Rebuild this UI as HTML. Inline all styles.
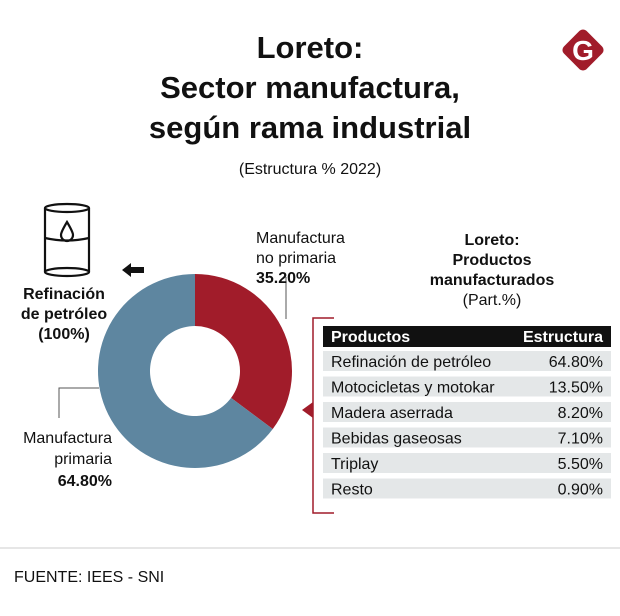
<!DOCTYPE html>
<html><head><meta charset="utf-8">
<style>
body{margin:0;background:#fff;font-family:"Liberation Sans",sans-serif;}
#wrap{position:relative;width:620px;height:616px;overflow:hidden;background:#fff;}
</style></head>
<body>
<div id="wrap">
<svg id="chart" width="620" height="616" viewBox="0 0 620 616">
  <text x="310" y="58" text-anchor="middle" font-size="31" font-weight="bold" fill="#111">Loreto:</text>
  <text x="310" y="98" text-anchor="middle" font-size="31" font-weight="bold" fill="#111">Sector manufactura,</text>
  <text x="310" y="138" text-anchor="middle" font-size="31" font-weight="bold" fill="#111">según rama industrial</text>
  <text x="310" y="174" text-anchor="middle" font-size="16" fill="#111">(Estructura % 2022)</text>
  <g>
    <rect x="567" y="34" width="32" height="32" rx="5" transform="rotate(45 583 50)" fill="#a11c2a"/>
    <text x="583" y="60" text-anchor="middle" font-size="28" font-weight="bold" fill="#fff">G</text>
  </g>
  <g fill="none" stroke="#111" stroke-width="2.2">
    <ellipse cx="67" cy="208" rx="22" ry="4"/>
    <path d="M45 208 V272 M89 208 V272"/>
    <ellipse cx="67" cy="272" rx="22" ry="4"/>
    <path d="M45 238 Q67 243 89 238"/>
    <path d="M67 222 Q61 232 61 235 A6 6 0 0 0 73 235 Q73 232 67 222 Z"/>
  </g>
  <path d="M122 270 L131 263 L131 267 L144 267 L144 273 L131 273 L131 277 Z" fill="#111"/>
  <text x="64" y="299" text-anchor="middle" font-size="16" font-weight="bold" fill="#111">Refinación</text>
  <text x="64" y="319" text-anchor="middle" font-size="16" font-weight="bold" fill="#111">de petróleo</text>
  <text x="64" y="339" text-anchor="middle" font-size="16" font-weight="bold" fill="#111">(100%)</text>
  <g id="slices"></g>
  <path d="M286 319 V277" fill="none" stroke="#555" stroke-width="1"/>
  <text x="256" y="243" font-size="16" fill="#111">Manufactura</text>
  <text x="256" y="263" font-size="16" fill="#111">no primaria</text>
  <text x="256" y="283" font-size="16" font-weight="bold" fill="#111">35.20%</text>
  <path d="M59 418 V388 H99" fill="none" stroke="#555" stroke-width="1"/>
  <text x="112" y="443" text-anchor="end" font-size="16" fill="#111">Manufactura</text>
  <text x="112" y="464" text-anchor="end" font-size="16" fill="#111">primaria</text>
  <text x="112" y="486" text-anchor="end" font-size="16" font-weight="bold" fill="#111">64.80%</text>
  <text x="492" y="245" text-anchor="middle" font-size="16" font-weight="bold" fill="#111">Loreto:</text>
  <text x="492" y="265" text-anchor="middle" font-size="16" font-weight="bold" fill="#111">Productos</text>
  <text x="492" y="285" text-anchor="middle" font-size="16" font-weight="bold" fill="#111">manufacturados</text>
  <text x="492" y="305" text-anchor="middle" font-size="16" fill="#111">(Part.%)</text>
  <path d="M334 318 H313 V513 H334" fill="none" stroke="#a11c2a" stroke-width="1.5"/>
  <path d="M313 402 L302 410 L313 418 Z" fill="#a11c2a"/>
  <rect x="323" y="326" width="288" height="21" fill="#111"/>
  <text x="331" y="342" font-size="16" font-weight="bold" fill="#fff">Productos</text>
  <text x="603" y="342" text-anchor="end" font-size="16" font-weight="bold" fill="#fff">Estructura</text>
  <g id="rows"></g>
  <line x1="0" y1="548" x2="620" y2="548" stroke="#ccc" stroke-width="1"/>
  <text x="14" y="582" font-size="16" fill="#111">FUENTE: IEES - SNI</text>
</svg>
</div>
<script>
const sliceLabels = ["Manufactura no primaria", "Manufactura primaria"];
const sliceValues = [35.2, 64.8];
const sliceColors = ["#a11c2a", "#5e86a0"];
const products = ["Refinación de petróleo","Motocicletas y motokar","Madera aserrada","Bebidas gaseosas","Triplay","Resto"];
const productShares = [64.8, 13.5, 8.2, 7.1, 5.5, 0.9];

const NS = "http://www.w3.org/2000/svg";
const cx = 195, cy = 371, R = 97, r = 45;
const total = sliceValues.reduce((a,b)=>a+b,0);
function pt(a, rad){ return [cx + rad*Math.sin(a), cy - rad*Math.cos(a)]; }
const sg = document.getElementById("slices");
let start = 0;
sliceValues.forEach((v,i)=>{
  const end = start + v/total*2*Math.PI;
  const large = (end-start) > Math.PI ? 1 : 0;
  const [x1,y1]=pt(start,R),[x2,y2]=pt(end,R),[x3,y3]=pt(end,r),[x4,y4]=pt(start,r);
  const p = document.createElementNS(NS,"path");
  p.setAttribute("d",`M${x1} ${y1} A${R} ${R} 0 ${large} 1 ${x2} ${y2} L${x3} ${y3} A${r} ${r} 0 ${large} 0 ${x4} ${y4} Z`);
  p.setAttribute("fill",sliceColors[i]);
  
  
  sg.appendChild(p);
  start = end;
});
const rg = document.getElementById("rows");
products.forEach((name,i)=>{
  const y = 351 + i*25.5;
  const g = document.createElementNS(NS,"g");
  
  
  const rect = document.createElementNS(NS,"rect");
  rect.setAttribute("x",323); rect.setAttribute("y",y);
  rect.setAttribute("width",288); rect.setAttribute("height",20);
  rect.setAttribute("fill","#e4e7e8");
  g.appendChild(rect);
  const t1 = document.createElementNS(NS,"text");
  t1.setAttribute("x",331); t1.setAttribute("y",y+16);
  t1.setAttribute("font-size","16"); t1.setAttribute("fill","#111");
  t1.textContent = name;
  g.appendChild(t1);
  const t2 = document.createElementNS(NS,"text");
  t2.setAttribute("x",603); t2.setAttribute("y",y+16);
  t2.setAttribute("text-anchor","end");
  t2.setAttribute("font-size","16"); t2.setAttribute("fill","#111");
  t2.textContent = productShares[i].toFixed(2) + "%";
  g.appendChild(t2);
  rg.appendChild(g);
});
</script>
</body></html>
